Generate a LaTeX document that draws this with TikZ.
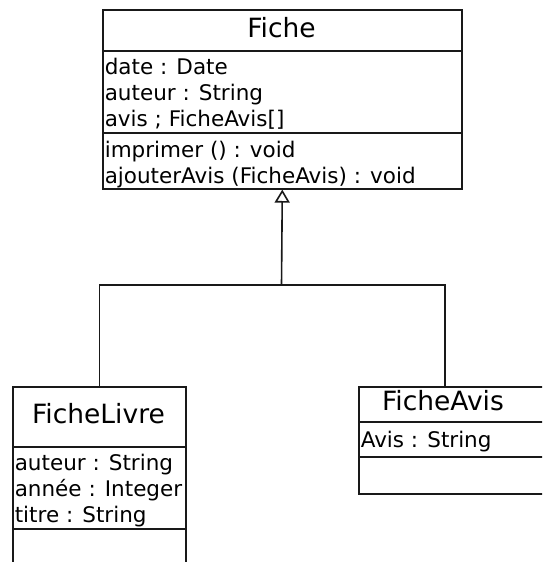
\documentclass[tikz,border=0pt]{standalone}
\usepackage{fontspec}
\setmainfont{DejaVu Sans}
\usetikzlibrary{arrows.meta}
\begin{document}
\begin{tikzpicture}[x=1pt,y=-1pt, line width=1.6pt, draw=black!90,
  box/.style={draw, rectangle, inner sep=0pt, anchor=north west},
  ttl/.style={font=\fontsize{26.5}{30}\selectfont, inner sep=0pt, anchor=base},
  mem/.style={font=\fontsize{21.5}{26}\selectfont, inner sep=0pt, anchor=base west},
  gen/.style={-{Triangle[open,length=13pt,width=15pt]}}]
\useasboundingbox (0,0) rectangle (542,562);
\clip (0,0) rectangle (542,562);
% Fiche
\node[box, minimum width=359pt, minimum height=179pt] (fiche) at (102,9) {};
\draw (102,51) -- (461,51);
\draw (102,133) -- (461,133);
\node[ttl] (fichet) at (281.5,37) {Fiche};
\node[mem] (f1) at (104,74) {date : Date};
\node[mem] (f2) at (104,100) {auteur : String};
\node[mem] (f3) at (104,126) {avis ; FicheAvis[]};
\node[mem] (f4) at (104,157) {imprimer () : void};
\node[mem] (f5) at (104,183) {ajouterAvis (FicheAvis) : void};
% FicheLivre
\node[box, minimum width=173pt, minimum height=250pt] (livre) at (12,386) {};
\draw (12,447) -- (185,447);
\draw (12,529) -- (185,529);
\node[ttl] (livret) at (98.5,423) {FicheLivre};
\node[mem] (l1) at (14,470) {auteur : String};
\node[mem] (l2) at (14,496) {année : Integer};
\node[mem] (l3) at (14,522) {titre : String};
% FicheAvis
\node[box, minimum width=300pt, minimum height=107pt] (avis) at (358,386) {};
\draw (358,422) -- (660,422);
\draw (358,457) -- (660,457);
\node[ttl] (avist) at (443,410) {FicheAvis};
\node[mem] (a1) at (360,447) {Avis : String};
% generalization
\coordinate (j) at (281.5,285);
\coordinate (avtop) at (445,386);
\draw (livre.north) -- (livre.north |- j) -- (j -| avtop) -- (avtop);
\draw[gen] (j) -- (fiche.south);
\end{tikzpicture}
\end{document}
